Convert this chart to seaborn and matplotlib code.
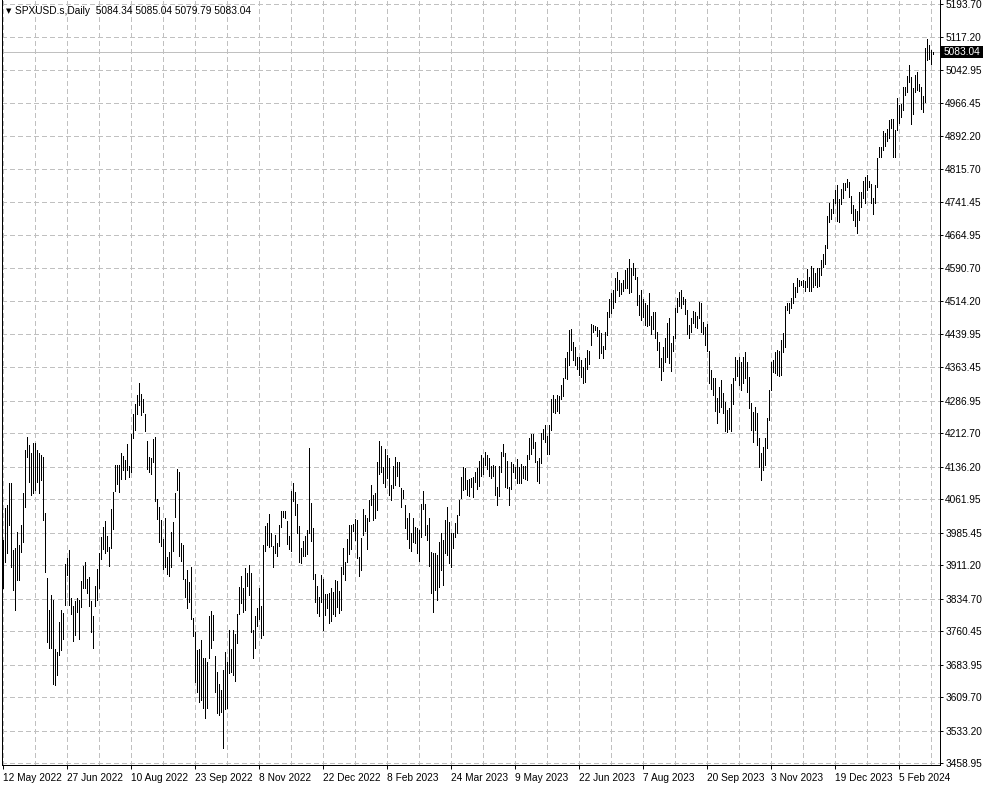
import matplotlib
matplotlib.use("Agg")
import matplotlib.pyplot as plt
import matplotlib.transforms as mtransforms
from matplotlib.patches import Rectangle
import numpy as np
import pandas as pd
import seaborn as sns

SYMBOL = "SPXUSD.s,Daily"
LAST_OHLC = [5084.34, 5085.04, 5079.79, 5083.04]

# broker calendar: every weekday, minus the christmas / new year closures
FIRST_DAY = "2022-05-12"
LAST_DAY = "2024-02-28"
CLOSED_DAYS = ["2022-12-26", "2023-01-02", "2023-12-25", "2024-01-01"]

PRICE_TICKS = [5193.70, 5117.20, 5042.95, 4966.45, 4892.20, 4815.70, 4741.45,
               4664.95, 4590.70, 4514.20, 4439.95, 4363.45, 4286.95, 4212.70,
               4136.20, 4061.95, 3985.45, 3911.20, 3834.70, 3760.45, 3683.95,
               3609.70, 3533.20, 3458.95]

bar_high = [
    # 2022 May
    3969, 4042, 4049, 4099, 4099, 3946, 3950, 3987, 3957, 4003, 4076, 4174, 4205, 4186,
    # Jun
    4167, 4190, 4190, 4174, 4167, 4163, 4158, 4030, 3882, 3808, 3843, 3831, 3720, 3712,
    3781, 3809, 3802, 3913, 3928, 3945, 3836, 3818,
    # Jul
    3829, 3835, 3832, 3875, 3910, 3919, 3880, 3885, 3829, 3796, 3863, 3903, 3940, 3975,
    3999, 4012, 3978, 3953, 4039, 4078, 4140,
    # Aug
    4141, 4141, 4167, 4161, 4151, 4187, 4137, 4211, 4257, 4280, 4301, 4327, 4303, 4292,
    4257, 4195, 4159, 4156, 4200, 4204, 4062, 4044, 4015,
    # Sep
    3970, 4018, 3930, 3942, 3987, 4010, 4077, 4130, 4125, 3962, 3957, 3880, 3900, 3873,
    3907, 3790, 3758, 3717, 3719, 3740, 3699, 3699,
    # Oct
    3690, 3795, 3806, 3797, 3703, 3667, 3640, 3626, 3671, 3712, 3689, 3762, 3720, 3764,
    3754, 3800, 3862, 3886, 3860, 3905, 3893,
    # Nov
    3911, 3894, 3762, 3796, 3814, 3860, 3818, 3958, 4000, 4008, 4029, 3984, 3955, 3980,
    3962, 4003, 4034, 4036, 4034, 4012, 3977, 4080,
    # Dec
    4100, 4078, 4052, 4001, 3950, 3967, 3977, 3991, 4180, 4053, 3995, 3890, 3864, 3839,
    3889, 3879, 3845, 3846, 3848, 3858, 3850,
    # 2023 Jan
    3878, 3874, 3853, 3906, 3951, 3919, 3970, 4003, 4003, 4005, 4016, 4015, 3929, 3974,
    4039, 4025, 4019, 4061, 4095, 4071, 4077,
    # Feb
    4148, 4195, 4183, 4136, 4176, 4164, 4157, 4094, 4138, 4159, 4148, 4148, 4087, 4083,
    4048, 4018, 4030, 3985, 4018, 3998,
    # Mar
    3995, 3991, 4050, 4080, 4051, 4003, 4018, 3941, 3939, 3939, 3934, 3964, 3984, 3968,
    4014, 4044, 4010, 3984, 3984, 4007, 4025, 4060, 4112,
    # Apr
    4135, 4133, 4105, 4108, 4110, 4112, 4124, 4134, 4150, 4163, 4155, 4169, 4163, 4155,
    4138, 4141, 4137, 4090, 4138, 4170,
    # May
    4187, 4168, 4149, 4090, 4148, 4143, 4135, 4154, 4135, 4143, 4138, 4137, 4164, 4202,
    4212, 4212, 4192, 4150, 4156, 4213, 4222, 4231, 4206,
    # Jun
    4232, 4291, 4300, 4290, 4300, 4298, 4322, 4340, 4385, 4398, 4449, 4451, 4421, 4410,
    4387, 4387, 4380, 4365, 4384, 4403, 4400, 4462,
    # Jul
    4460, 4458, 4456, 4449, 4441, 4412, 4443, 4490, 4519, 4533, 4540, 4567, 4581, 4564,
    4555, 4563, 4585, 4590, 4610, 4590, 4601,
    # Aug
    4590, 4570, 4529, 4540, 4520, 4510, 4505, 4533, 4480, 4490, 4490, 4444, 4421, 4385,
    4410, 4430, 4465, 4476, 4420, 4435, 4500, 4522, 4535,
    # Sep
    4541, 4525, 4520, 4495, 4460, 4476, 4492, 4490, 4480, 4512, 4510, 4466, 4455, 4462,
    4400, 4357, 4340, 4338, 4293, 4318, 4334,
    # Oct
    4305, 4285, 4266, 4270, 4325, 4338, 4386, 4380, 4386, 4375, 4387, 4398, 4375, 4341,
    4282, 4261, 4273, 4259, 4202, 4167, 4181, 4202,
    # Nov
    4247, 4311, 4375, 4380, 4398, 4403, 4400, 4426, 4442, 4504, 4511, 4511, 4521, 4557,
    4548, 4568, 4562, 4560, 4562, 4560, 4587, 4570,
    # Dec
    4595, 4591, 4578, 4590, 4590, 4609, 4623, 4643, 4709, 4739, 4725, 4749, 4768, 4779,
    4748, 4772, 4785, 4785, 4793, 4788,
    # 2024 Jan
    4755, 4735, 4726, 4721, 4764, 4765, 4790, 4798, 4802, 4790, 4782, 4750, 4781, 4842,
    4868, 4866, 4903, 4898, 4907, 4929, 4932, 4931,
    # Feb
    4906, 4979, 4963, 4965, 5004, 5004, 5030, 5054, 5027, 5002, 5032, 5038, 5010, 5005,
    4983, 5094, 5113, 5100, 5088, 5085.04,
]

bar_low = [
    # 2022 May
    3859, 3918, 3939, 4003, 3907, 3854, 3809, 3877, 3877, 3941, 3964, 4044, 4158, 4102,
    # Jun
    4071, 4076, 4083, 4101, 4076, 4106, 4014, 3895, 3735, 3722, 3722, 3639, 3637, 3660,
    3705, 3717, 3743, 3821, 3889, 3820, 3799, 3738,
    # Jul
    3752, 3805, 3742, 3815, 3859, 3858, 3847, 3818, 3758, 3722, 3818, 3831, 3860, 3926,
    3947, 3938, 3943, 3910, 3951, 3993, 4080,
    # Aug
    4096, 4079, 4107, 4128, 4108, 4128, 4112, 4125, 4201, 4219, 4256, 4277, 4255, 4262,
    4218, 4132, 4124, 4119, 4147, 4057, 4017, 3965, 3954,
    # Sep
    3903, 3906, 3890, 3886, 3906, 3944, 4022, 4084, 3933, 3920, 3880, 3838, 3813, 3827,
    3789, 3749, 3644, 3621, 3598, 3603, 3584, 3562,
    # Oct
    3584, 3700, 3722, 3739, 3621, 3573, 3568, 3575, 3493, 3582, 3584, 3665, 3667, 3659,
    3647, 3733, 3799, 3824, 3803, 3808, 3863,
    # Nov
    3843, 3758, 3698, 3721, 3773, 3787, 3744, 3751, 3944, 3957, 3953, 3954, 3907, 3938,
    3933, 3956, 3999, 4022, 4020, 3959, 3948, 3943,
    # Dec
    4058, 4026, 3984, 3919, 3917, 3933, 3933, 3936, 3985, 3966, 3879, 3828, 3801, 3795,
    3828, 3764, 3797, 3813, 3780, 3783, 3800,
    # 2023 Jan
    3794, 3815, 3802, 3809, 3890, 3877, 3919, 3937, 3947, 3990, 3969, 3928, 3886, 3899,
    3979, 3989, 3949, 4013, 4049, 4015, 4018,
    # Feb
    4037, 4119, 4124, 4098, 4090, 4111, 4072, 4060, 4088, 4095, 4114, 4091, 4044, 4065,
    3996, 3970, 3950, 3943, 3965, 3962,
    # Mar
    3939, 3920, 3975, 4040, 3980, 3969, 3910, 3847, 3804, 3854, 3831, 3861, 3900, 3866,
    3939, 3934, 3916, 3907, 3950, 3975, 3984, 4025, 4064,
    # Apr
    4083, 4086, 4071, 4069, 4090, 4068, 4102, 4086, 4092, 4114, 4120, 4140, 4130, 4114,
    4110, 4116, 4072, 4049, 4070, 4125,
    # May
    4161, 4089, 4088, 4048, 4085, 4123, 4110, 4098, 4099, 4099, 4110, 4109, 4105, 4153,
    4165, 4180, 4146, 4103, 4098, 4145, 4200, 4193, 4166,
    # Jun
    4166, 4220, 4262, 4260, 4263, 4260, 4290, 4298, 4340, 4337, 4368, 4403, 4380, 4369,
    4360, 4346, 4341, 4328, 4330, 4360, 4371, 4415,
    # Jul
    4443, 4448, 4436, 4385, 4397, 4385, 4405, 4437, 4478, 4487, 4500, 4513, 4540, 4527,
    4530, 4538, 4545, 4545, 4533, 4536, 4574,
    # Aug
    4565, 4505, 4483, 4472, 4478, 4460, 4458, 4461, 4440, 4450, 4430, 4403, 4365, 4335,
    4355, 4375, 4387, 4373, 4356, 4400, 4430, 4490, 4504,
    # Sep
    4500, 4508, 4485, 4440, 4430, 4445, 4465, 4455, 4453, 4476, 4445, 4440, 4415, 4400,
    4328, 4314, 4300, 4263, 4236, 4262, 4272,
    # Oct
    4258, 4218, 4216, 4222, 4218, 4280, 4335, 4343, 4323, 4311, 4327, 4339, 4307, 4270,
    4220, 4193, 4220, 4186, 4135, 4105, 4129, 4140,
    # Nov
    4179, 4243, 4311, 4353, 4350, 4346, 4343, 4346, 4398, 4410, 4495, 4488, 4500, 4511,
    4525, 4535, 4550, 4552, 4546, 4538, 4547, 4537,
    # Dec
    4537, 4547, 4551, 4546, 4549, 4574, 4593, 4600, 4635, 4695, 4702, 4715, 4740, 4698,
    4695, 4736, 4750, 4768, 4775, 4752,
    # 2024 Jan
    4715, 4699, 4687, 4670, 4699, 4730, 4750, 4740, 4768, 4775, 4740, 4714, 4740, 4775,
    4844, 4844, 4860, 4869, 4881, 4887, 4910, 4845,
    # Feb
    4845, 4906, 4922, 4935, 4951, 4985, 4993, 5016, 4920, 4943, 4993, 4996, 4995, 4953,
    4946, 4970, 5065, 5068, 5057, 5079.79,
]

W, H = 985, 787
PLOT_LEFT, PLOT_RIGHT, PLOT_BOTTOM = 2, 940, 765   # pixel edges of the chart area
Y_TOP, Y_BOTTOM = 5202.84, 3454.38                 # prices at the top / bottom edge
LABEL_EVERY, GRID_EVERY = 32, 16                   # bars
FONT = 7.3
GRID_GREY = "#c0c0c0"
ONE_PX = 0.69  # points

sns.set_theme(style="white")
plt.rcParams["font.family"] = ["Liberation Sans Narrow", "Liberation Sans", "DejaVu Sans"]
plt.rcParams["lines.scale_dashes"] = False

days = pd.bdate_range(FIRST_DAY, LAST_DAY)
days = days[~days.isin(pd.to_datetime(CLOSED_DAYS))]
n = min(len(days), len(bar_high), len(bar_low))
if n != len(bar_high):
    print(f"warning: {len(days)} days vs {len(bar_high)} bars")
bars = pd.DataFrame({"day": days[:n], "high": bar_high[:n], "low": bar_low[:n]})
bars["bar"] = np.arange(n)
long = bars.melt(id_vars=["bar"], value_vars=["low", "high"], value_name="price")

fig = plt.figure(figsize=(W / 100, H / 100), dpi=100)
fig.patch.set_facecolor("white")
ax = fig.add_axes([PLOT_LEFT / W, 1 - PLOT_BOTTOM / H,
                   (PLOT_RIGHT - PLOT_LEFT) / W, PLOT_BOTTOM / H])

# one vertical high-low stroke per bar
sns.lineplot(data=long, x="bar", y="price", units="bar", estimator=None, sort=False,
             color="black", linewidth=ONE_PX, antialiased=False, legend=False, ax=ax,
             zorder=3)

ax.set_xlim(-0.5, (PLOT_RIGHT - PLOT_LEFT) / 2 - 0.5)
ax.set_ylim(Y_BOTTOM, Y_TOP)
ax.set_xlabel("")
ax.set_ylabel("")

# last price line
ax.axhline(LAST_OHLC[3], color=GRID_GREY, linewidth=ONE_PX, antialiased=False, zorder=2)

# x axis: date every 32 bars, grid every 16
major = np.arange(0, n, LABEL_EVERY)
minor = np.arange(GRID_EVERY, n, LABEL_EVERY)
labels = [f"{d.day} {d.strftime('%b %Y')}" for d in bars["day"].iloc[major]]
ax.set_xticks(major, labels)
ax.set_xticks(minor, minor=True)
for lbl in ax.get_xticklabels():
    lbl.set_ha("left")

ax.yaxis.tick_right()
ax.set_yticks(PRICE_TICKS, [f"{v:.2f}" for v in PRICE_TICKS])

grid_kw = dict(color=GRID_GREY, linestyle=(0, (2.9, 2.2)), linewidth=ONE_PX, antialiased=False)
ax.grid(True, which="both", axis="x", **grid_kw)
ax.grid(True, which="major", axis="y", **grid_kw)
ax.set_axisbelow(True)

ax.tick_params(axis="x", which="major", bottom=True, length=3, width=ONE_PX, color="black",
               direction="out", pad=2.5, labelsize=FONT, labelcolor="black")
ax.tick_params(axis="x", which="minor", bottom=True, length=0)
ax.tick_params(axis="y", which="major", right=True, left=False, length=2.5, width=ONE_PX,
               color="black", direction="out", pad=1.2, labelsize=FONT, labelcolor="black")

for side in ["left", "bottom", "right"]:
    ax.spines[side].set_color("black")
    ax.spines[side].set_linewidth(ONE_PX)
    ax.spines[side].set_antialiased(False)
ax.spines["top"].set_visible(False)

# black price tag on the right scale
ppx = (Y_TOP - Y_BOTTOM) / PLOT_BOTTOM
trans = mtransforms.blended_transform_factory(fig.transFigure, ax.transData)
ax.add_patch(Rectangle((941 / W, LAST_OHLC[3] - 6 * ppx), 42 / W, 12 * ppx,
                       transform=trans, facecolor="black", edgecolor="none",
                       clip_on=False, zorder=5))
ax.text(944 / W, LAST_OHLC[3], f"{LAST_OHLC[3]:.2f}", transform=trans, color="white",
        ha="left", va="center", fontsize=FONT, zorder=6)

# header
fig.text(6 / W, 1 - 11 / H, "\u25bc", fontsize=5, family="DejaVu Sans", va="center",
         color="black")
fig.text(15 / W, 1 - 10.5 / H,
         f"{SYMBOL}  " + " ".join(f"{v:.2f}" for v in LAST_OHLC),
         fontsize=FONT, va="center", color="black")

fig.savefig("out.png", dpi=100, facecolor="white")
